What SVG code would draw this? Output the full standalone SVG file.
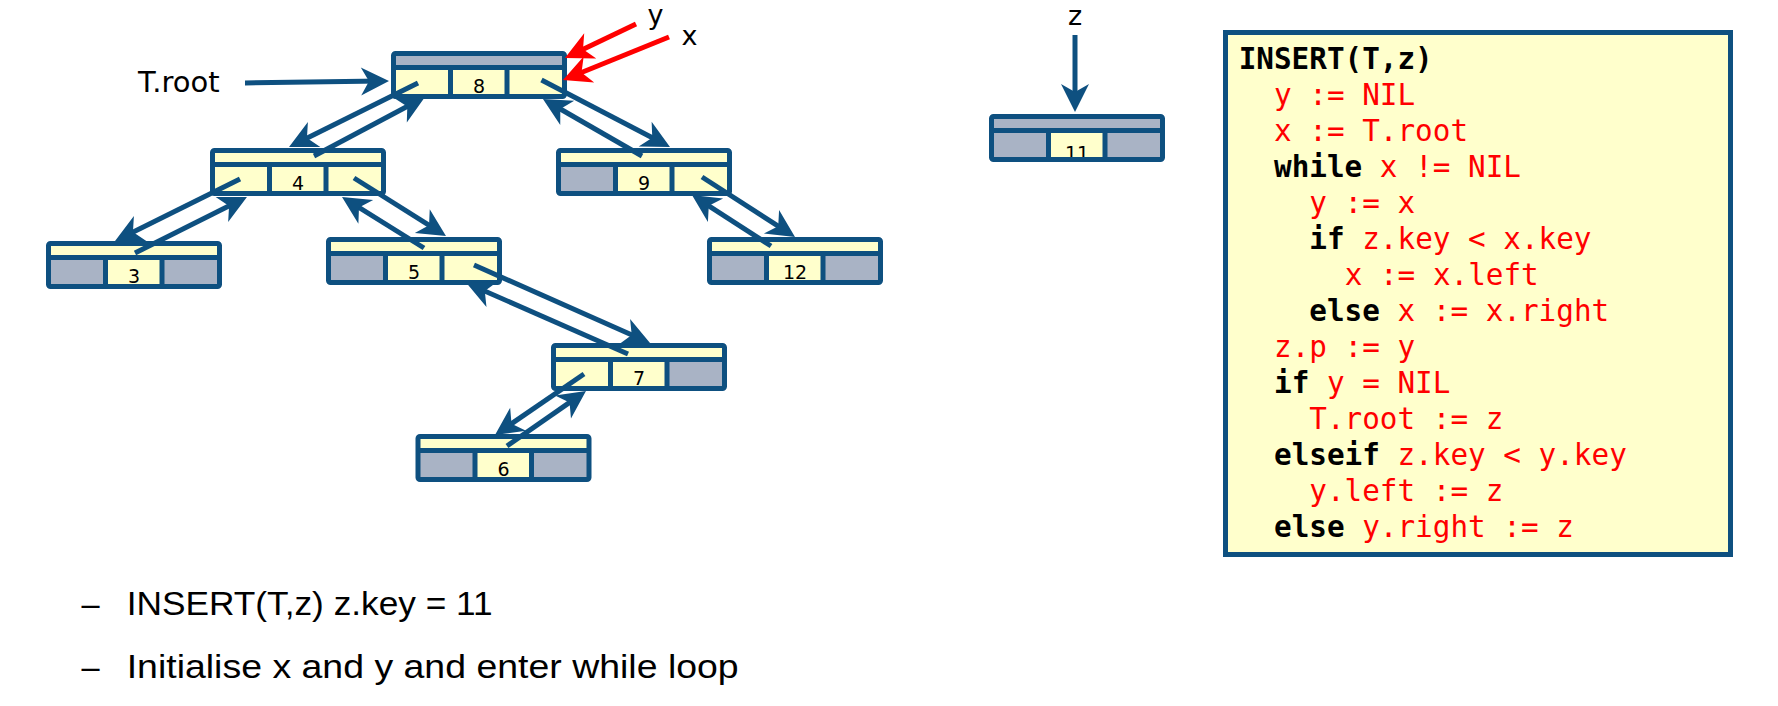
<svg xmlns="http://www.w3.org/2000/svg" width="1778" height="706" viewBox="0 0 1778 706">
<style>
.y{fill:#FFFFCC}
.g{fill:#A9B3C5}
.ol{fill:none;stroke:#0E5080;stroke-width:5;stroke-linejoin:round}
.key{font-family:"DejaVu Sans",sans-serif;font-size:19px;text-anchor:middle;fill:#000}
.lbl{font-family:"DejaVu Sans",sans-serif;font-size:29px;fill:#000}
.sm{font-size:27px}
.con{stroke:#0E5080;stroke-width:5;fill:none;marker-end:url(#ah)}
.red{stroke:#FF0000;stroke-width:5;fill:none;marker-end:url(#ahr)}
.code{font-family:"DejaVu Sans Mono","Liberation Mono",monospace;font-size:29.3px;fill:#FF0000}
.kw{font-weight:bold;fill:#000}
.bul{font-family:"Liberation Sans","DejaVu Sans",sans-serif;font-size:32.5px;fill:#000}
</style>
<defs>
<marker id="ah" markerUnits="userSpaceOnUse" markerWidth="60" markerHeight="60" viewBox="-30 -30 60 60" refX="0" refY="0" orient="auto" overflow="visible"><path d="M8,0 L-20,-14 L-12,0 L-20,14 Z" fill="#0E5080"/></marker>
<marker id="ahr" markerUnits="userSpaceOnUse" markerWidth="60" markerHeight="60" viewBox="-30 -30 60 60" refX="0" refY="0" orient="auto" overflow="visible"><path d="M8,0 L-20,-14 L-12,0 L-20,14 Z" fill="#FF0000"/></marker>
</defs>
<rect width="1778" height="706" fill="#FFFFFF"/>

<g id="node-8" transform="translate(391,51)">
<rect class="g" x="2.5" y="2.5" width="171" height="14"/>
<rect class="y" x="2.5" y="16.5" width="57" height="29"/><rect class="y" x="59.5" y="16.5" width="56.5" height="29"/><rect class="y" x="116" y="16.5" width="57.5" height="29"/>
<text class="key" x="88" y="42">8</text>
<rect class="ol" x="2.5" y="2.5" width="171" height="43" rx="2"/><path class="ol" d="M2.5,16.5H173.5M59.5,16.5V45.5M116,16.5V45.5"/>
</g>
<g id="node-4" transform="translate(210,148)">
<rect class="y" x="2.5" y="2.5" width="171" height="14"/>
<rect class="y" x="2.5" y="16.5" width="57" height="29"/><rect class="y" x="59.5" y="16.5" width="56.5" height="29"/><rect class="y" x="116" y="16.5" width="57.5" height="29"/>
<text class="key" x="88" y="42">4</text>
<rect class="ol" x="2.5" y="2.5" width="171" height="43" rx="2"/><path class="ol" d="M2.5,16.5H173.5M59.5,16.5V45.5M116,16.5V45.5"/>
</g>
<g id="node-9" transform="translate(556,148)">
<rect class="y" x="2.5" y="2.5" width="171" height="14"/>
<rect class="g" x="2.5" y="16.5" width="57" height="29"/><rect class="y" x="59.5" y="16.5" width="56.5" height="29"/><rect class="y" x="116" y="16.5" width="57.5" height="29"/>
<text class="key" x="88" y="42">9</text>
<rect class="ol" x="2.5" y="2.5" width="171" height="43" rx="2"/><path class="ol" d="M2.5,16.5H173.5M59.5,16.5V45.5M116,16.5V45.5"/>
</g>
<g id="node-3" transform="translate(46,241)">
<rect class="y" x="2.5" y="2.5" width="171" height="14"/>
<rect class="g" x="2.5" y="16.5" width="57" height="29"/><rect class="y" x="59.5" y="16.5" width="56.5" height="29"/><rect class="g" x="116" y="16.5" width="57.5" height="29"/>
<text class="key" x="88" y="42">3</text>
<rect class="ol" x="2.5" y="2.5" width="171" height="43" rx="2"/><path class="ol" d="M2.5,16.5H173.5M59.5,16.5V45.5M116,16.5V45.5"/>
</g>
<g id="node-5" transform="translate(326,237)">
<rect class="y" x="2.5" y="2.5" width="171" height="14"/>
<rect class="g" x="2.5" y="16.5" width="57" height="29"/><rect class="y" x="59.5" y="16.5" width="56.5" height="29"/><rect class="y" x="116" y="16.5" width="57.5" height="29"/>
<text class="key" x="88" y="42">5</text>
<rect class="ol" x="2.5" y="2.5" width="171" height="43" rx="2"/><path class="ol" d="M2.5,16.5H173.5M59.5,16.5V45.5M116,16.5V45.5"/>
</g>
<g id="node-12" transform="translate(707,237)">
<rect class="y" x="2.5" y="2.5" width="171" height="14"/>
<rect class="g" x="2.5" y="16.5" width="57" height="29"/><rect class="y" x="59.5" y="16.5" width="56.5" height="29"/><rect class="g" x="116" y="16.5" width="57.5" height="29"/>
<text class="key" x="88" y="42">12</text>
<rect class="ol" x="2.5" y="2.5" width="171" height="43" rx="2"/><path class="ol" d="M2.5,16.5H173.5M59.5,16.5V45.5M116,16.5V45.5"/>
</g>
<g id="node-7" transform="translate(551,343)">
<rect class="y" x="2.5" y="2.5" width="171" height="14"/>
<rect class="y" x="2.5" y="16.5" width="57" height="29"/><rect class="y" x="59.5" y="16.5" width="56.5" height="29"/><rect class="g" x="116" y="16.5" width="57.5" height="29"/>
<text class="key" x="88" y="42">7</text>
<rect class="ol" x="2.5" y="2.5" width="171" height="43" rx="2"/><path class="ol" d="M2.5,16.5H173.5M59.5,16.5V45.5M116,16.5V45.5"/>
</g>
<g id="node-6" transform="translate(415.5,434)">
<rect class="y" x="2.5" y="2.5" width="171" height="14"/>
<rect class="g" x="2.5" y="16.5" width="57" height="29"/><rect class="y" x="59.5" y="16.5" width="56.5" height="29"/><rect class="g" x="116" y="16.5" width="57.5" height="29"/>
<text class="key" x="88" y="42">6</text>
<rect class="ol" x="2.5" y="2.5" width="171" height="43" rx="2"/><path class="ol" d="M2.5,16.5H173.5M59.5,16.5V45.5M116,16.5V45.5"/>
</g>
<g id="node-11" transform="translate(989,114)">
<rect class="g" x="2.5" y="2.5" width="171" height="14"/>
<rect class="g" x="2.5" y="16.5" width="57" height="29"/><rect class="y" x="59.5" y="16.5" width="56.5" height="29"/><rect class="g" x="116" y="16.5" width="57.5" height="29"/>
<text class="key" x="88" y="46">11</text>
<rect class="ol" x="2.5" y="2.5" width="171" height="43" rx="2"/><path class="ol" d="M2.5,16.5H173.5M59.5,16.5V45.5M116,16.5V45.5"/>
</g>

<g id="labels">
<text class="lbl" x="138" y="92">T.root</text>
<text class="lbl sm" x="655.5" y="24" text-anchor="middle">y</text>
<text class="lbl sm" x="689.5" y="45" text-anchor="middle">x</text>
<text class="lbl sm" x="1075" y="25" text-anchor="middle">z</text>
</g>

<g id="connectors">
<line class="con" x1="245" y1="83" x2="381" y2="81.1"/>
<line class="con" x1="418" y1="83" x2="296.2" y2="143.4"/>
<line class="con" x1="314" y1="156" x2="417.9" y2="100.8"/>
<line class="con" x1="240" y1="179" x2="122.2" y2="237.4"/>
<line class="con" x1="135" y1="253" x2="239.8" y2="200.6"/>
<line class="con" x1="354" y1="178" x2="439.2" y2="231.7"/>
<line class="con" x1="424" y1="248" x2="348.8" y2="201.2"/>
<line class="con" x1="541.5" y1="80" x2="662.9" y2="143.3"/>
<line class="con" x1="642" y1="156" x2="549.9" y2="103"/>
<line class="con" x1="702" y1="177" x2="788.3" y2="232.7"/>
<line class="con" x1="771" y1="246" x2="698.7" y2="199.3"/>
<line class="con" x1="474" y1="265" x2="642.7" y2="339.8"/>
<line class="con" x1="628" y1="354" x2="473.8" y2="286.2"/>
<line class="con" x1="584" y1="374" x2="501.6" y2="430.5"/>
<line class="con" x1="507" y1="446" x2="579.4" y2="395.6"/>
<line class="con" x1="1075" y1="35" x2="1075" y2="104"/>
<line class="red" x1="636" y1="24" x2="572.2" y2="54.5"/>
<line class="red" x1="669" y1="37" x2="570.4" y2="77"/>
</g>

<g id="code-box">
<rect x="1225.5" y="32.5" width="505" height="522" fill="#FFFFCC" stroke="#0E5080" stroke-width="5"/>
<text class="code" xml:space="preserve">
<tspan x="1238.7" y="68.7" class="kw">INSERT(T,z)</tspan>
<tspan x="1274" y="104.7">y := NIL</tspan>
<tspan x="1274" y="140.7">x := T.root</tspan>
<tspan x="1274" y="176.7"><tspan class="kw">while</tspan> x != NIL</tspan>
<tspan x="1309.3" y="212.7">y := x</tspan>
<tspan x="1309.3" y="248.7"><tspan class="kw">if</tspan> z.key &lt; x.key</tspan>
<tspan x="1344.7" y="284.7">x := x.left</tspan>
<tspan x="1309.3" y="320.7"><tspan class="kw">else</tspan> x := x.right</tspan>
<tspan x="1274" y="356.7">z.p := y</tspan>
<tspan x="1274" y="392.7"><tspan class="kw">if</tspan> y = NIL</tspan>
<tspan x="1309.3" y="428.7">T.root := z</tspan>
<tspan x="1274" y="464.7"><tspan class="kw">elseif</tspan> z.key &lt; y.key</tspan>
<tspan x="1309.3" y="500.7">y.left := z</tspan>
<tspan x="1274" y="536.7"><tspan class="kw">else</tspan> y.right := z</tspan>
</text>
</g>

<g id="bullets">
<text class="bul" x="81.5" y="615">–</text>
<text class="bul" x="126.7" y="615" textLength="366" lengthAdjust="spacingAndGlyphs">INSERT(T,z) z.key = 11</text>
<text class="bul" x="81.5" y="678">–</text>
<text class="bul" x="126.7" y="678" textLength="612" lengthAdjust="spacingAndGlyphs">Initialise x and y and enter while loop</text>
</g>
</svg>
